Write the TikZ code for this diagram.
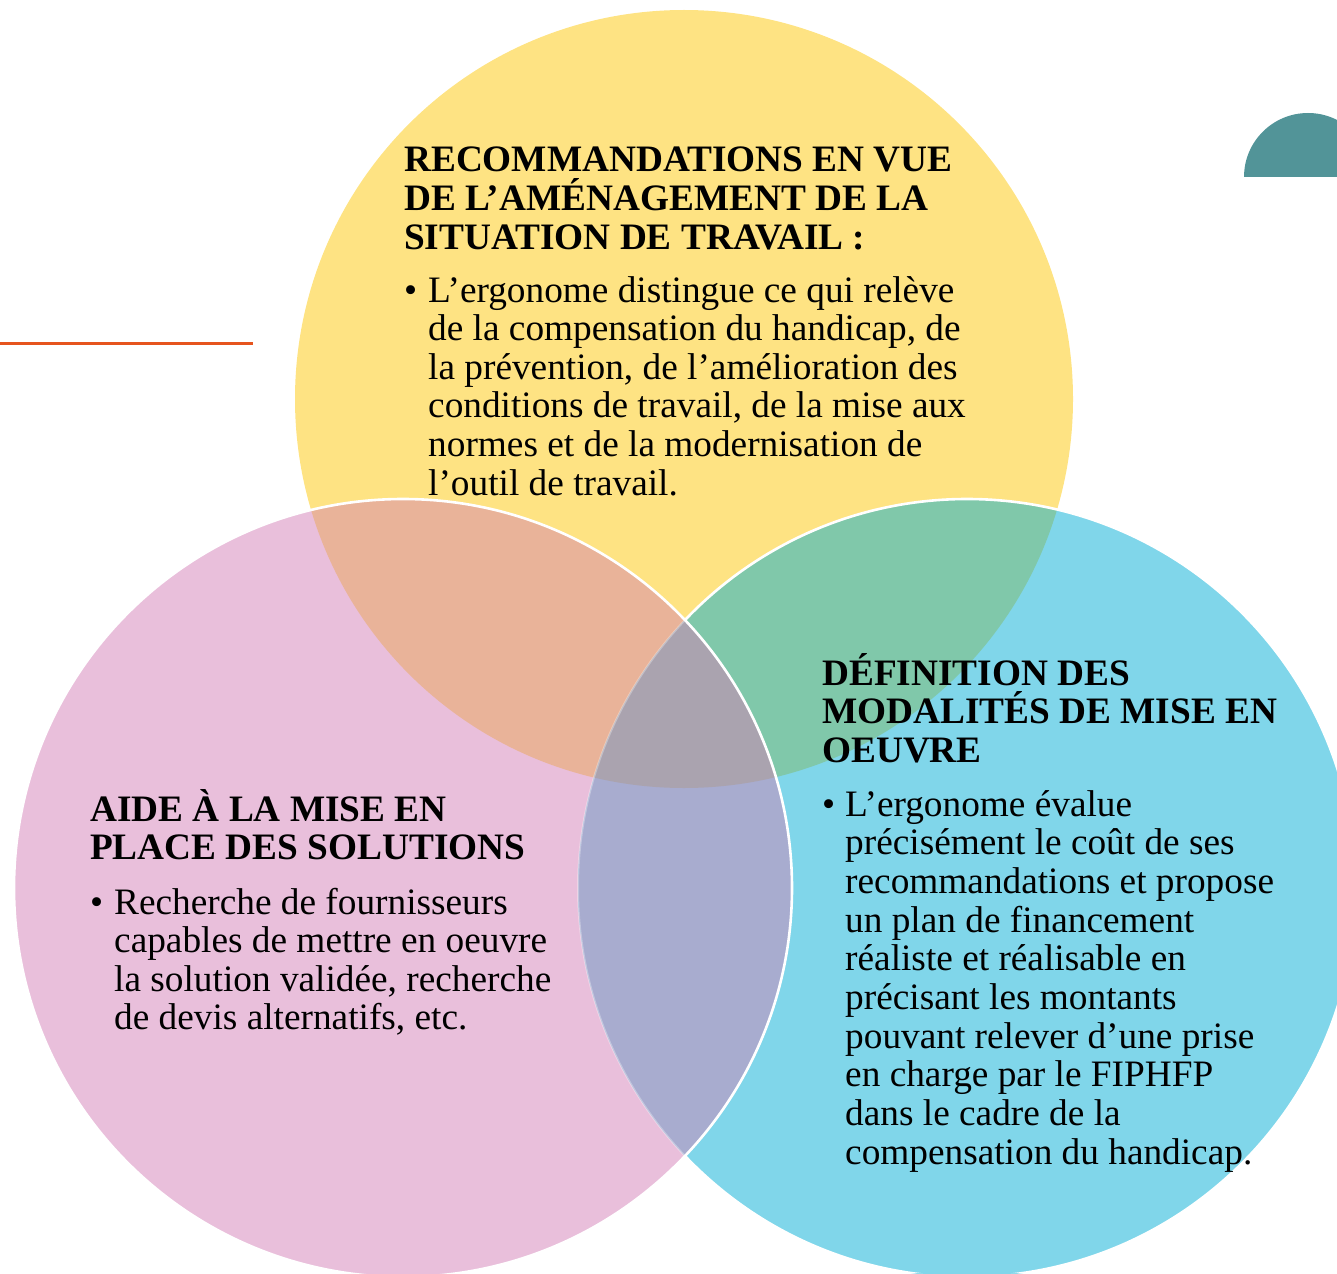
\documentclass[tikz,border=0pt]{standalone}
\usepackage{fontspec}
\setmainfont{Liberation Serif}
\definecolor{cY}{HTML}{FEE383}
\definecolor{cP}{HTML}{E9BFDB}
\definecolor{cB}{HTML}{80D6EA}
\definecolor{cYP}{HTML}{E9B399}
\definecolor{cYB}{HTML}{80C8AA}
\definecolor{cPB}{HTML}{A8ACCF}
\definecolor{cYPB}{HTML}{AAA3AF}
\definecolor{cTeal}{HTML}{529498}
\definecolor{cLine}{HTML}{E6541E}
\begin{document}
\begin{tikzpicture}[x=1pt,y=-1pt,
  txt/.style={anchor=base west, inner sep=0pt, font=\fontsize{37.3}{38.6}\selectfont},
  ttl/.style={anchor=base west, inner sep=0pt, font=\fontsize{37.3}{38.8}\selectfont\bfseries},
  edge/.style={draw=white, line width=2.6pt}]
\useasboundingbox (0,0) rectangle (1337,1273);
\clip (0,0) rectangle (1337,1273);
\def\Ycirc{(684,399) circle[radius=389pt]}
\def\Pcirc{(403,888) circle[radius=389pt]}
\def\Bcirc{(967,888) circle[radius=389pt]}
% base fills
\fill[cY] \Ycirc;
\fill[cP] \Pcirc;
\fill[cB] \Bcirc;
% overlaps
\begin{scope}\clip \Ycirc; \fill[cYP] \Pcirc; \end{scope}
\begin{scope}\clip \Ycirc; \fill[cYB] \Bcirc; \end{scope}
\begin{scope}\clip \Pcirc; \fill[cPB] \Bcirc; \end{scope}
\begin{scope}\clip \Ycirc; \clip \Pcirc; \fill[cYPB] \Bcirc; \end{scope}
% outlines
\begin{scope}[even odd rule]
  \clip (0,0) rectangle (1337,1273) \Pcirc;
  \draw[edge] \Bcirc;
\end{scope}
\begin{scope}
  \clip \Pcirc;
  \draw[draw=white, opacity=0.3, line width=2pt] \Bcirc;
\end{scope}
\draw[edge] \Pcirc;
% decorations
\begin{scope}
  \clip (1200,100) rectangle (1337,177);
  \fill[cTeal] (1308,177) circle[radius=64pt];
\end{scope}
\draw[cLine, line width=3pt] (0,343) -- (253,343);
% yellow texts
\node[ttl] (ytitle) at (404,172) {\parbox[t]{700pt}{RECOMMANDATIONS EN VUE\\DE L’AMÉNAGEMENT DE LA\\SITUATION DE TRAVAIL :}};
\node[txt] (ybul) at (404,302) {•};
\node[txt] (ybody) at (428,302) {\parbox[t]{700pt}{L’ergonome distingue ce qui relève\\de la compensation du handicap, de\\la prévention, de l’amélioration des\\conditions de travail, de la mise aux\\normes et de la modernisation de\\l’outil de travail.}};
% pink texts
\node[ttl] (ptitle) at (90,821) {\parbox[t]{700pt}{AIDE À LA MISE EN\\PLACE DES SOLUTIONS}};
\node[txt] (pbul) at (90,914) {•};
\node[txt] (pbody) at (114,914) {\parbox[t]{700pt}{Recherche de fournisseurs\\capables de mettre en oeuvre\\la solution validée, recherche\\de devis alternatifs, etc.}};
% blue texts
\node[ttl] (btitle) at (822,685) {\parbox[t]{700pt}{DÉFINITION DES\\MODALITÉS DE MISE EN\\OEUVRE}};
\node[txt] (bbul) at (822,816) {•};
\node[txt, font=\fontsize{37.3}{38.7}\selectfont] (bbody) at (845,816) {\parbox[t]{700pt}{L’ergonome évalue\\précisément le coût de ses\\recommandations et propose\\un plan de financement\\réaliste et réalisable en\\précisant les montants\\pouvant relever d’une prise\\en charge par le FIPHFP\\dans le cadre de la\\compensation du handicap.}};
\end{tikzpicture}
\end{document}
